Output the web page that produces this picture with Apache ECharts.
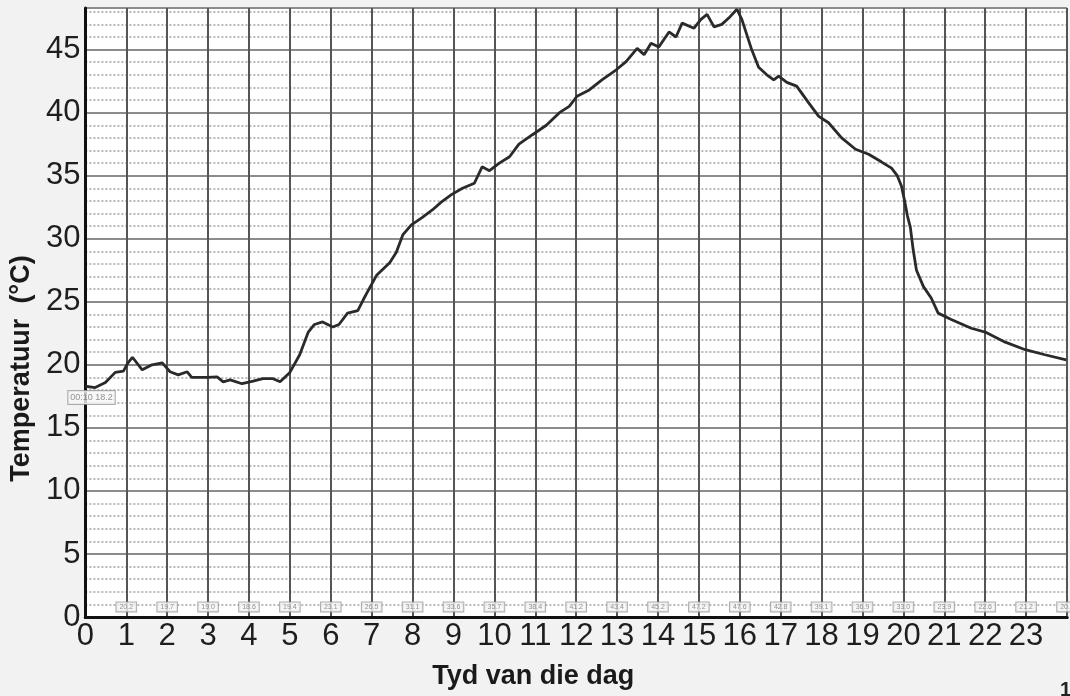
<!DOCTYPE html>
<html>
<head>
<meta charset="utf-8">
<style>
  html, body { margin: 0; padding: 0; background: #f2f2f2; }
  #chart { width: 1070px; height: 696px; }
</style>
<script src="https://cdn.jsdelivr.net/npm/echarts@6/dist/echarts.min.js"></script>
</head>
<body>
<div id="chart"></div>
<script>
// temperature trace (hour of day, degC)
const hours = [0, 0.24, 0.49, 0.73, 0.93, 1.05, 1.15, 1.39, 1.63, 1.88, 2.07, 2.27, 2.49, 2.6, 2.98,
  3.22, 3.37, 3.54, 3.83, 4.1, 4.34, 4.59, 4.76, 5, 5.24, 5.45, 5.6, 5.8, 6.05, 6.2, 6.41, 6.66, 6.8,
  6.95, 7.12, 7.44, 7.6, 7.76, 7.97, 8.24, 8.49, 8.7, 8.95, 9.22, 9.51, 9.7, 9.88, 10.12, 10.37, 10.6,
  10.93, 11.27, 11.59, 11.83, 12.02, 12.32, 12.63, 12.98, 13.22, 13.49, 13.66, 13.83, 14.02, 14.27,
  14.44, 14.59, 14.88, 15.05, 15.2, 15.37, 15.56, 15.73, 15.93, 16.05, 16.29, 16.46, 16.66, 16.83,
  16.95, 17.15, 17.39, 17.68, 17.93, 18.17, 18.49, 18.83, 19.15, 19.46, 19.71, 19.85, 19.95, 20.03,
  20.1, 20.17, 20.24, 20.32, 20.49, 20.68, 20.85, 21.17, 21.66, 22, 22.49, 22.98, 23.46, 23.98];
const temps = [18.3, 18.2, 18.6, 19.4, 19.5, 20.2, 20.6, 19.6, 20, 20.15, 19.45, 19.2, 19.45, 19, 19,
  19.05, 18.65, 18.8, 18.5, 18.7, 18.9, 18.9, 18.65, 19.4, 20.8, 22.6, 23.2, 23.4, 23, 23.2, 24.1, 24.3, 25.2,
  26.1, 27.1, 28.1, 28.9, 30.3, 31.1, 31.7, 32.3, 32.9, 33.5, 34, 34.4, 35.7, 35.4, 36, 36.5, 37.5,
  38.25, 39, 40, 40.5, 41.3, 41.8, 42.6, 43.4, 44.05, 45.1, 44.6, 45.5, 45.2, 46.4,
  46, 47.1, 46.7, 47.4, 47.8, 46.8, 47, 47.5, 48.2, 47.4, 45, 43.6, 43, 42.6,
  42.9, 42.4, 42.1, 40.8, 39.7, 39.2, 38, 37.1, 36.7, 36.1, 35.6, 35, 34.2, 33,
  31.8, 30.9, 29.1, 27.5, 26.2, 25.3, 24.1, 23.6, 22.9, 22.6, 21.8, 21.2, 20.8, 20.4];

// little reading boxes printed on the base line at each hour
const readingHours = [1, 2, 3, 4, 5, 6, 7, 8, 9, 10, 11, 12, 13, 14, 15, 16, 17, 18, 19, 20, 21, 22, 23, 24];
const readingValues = [20.2, 19.7, 19.0, 18.6, 19.4, 23.1, 26.5, 31.1, 33.6, 35.7, 38.4, 41.2, 43.4, 45.2,
  47.2, 47.6, 42.8, 39.1, 36.9, 33.0, 23.9, 22.6, 21.2, 20.4];
const startStamp = '00:10 18.2';

const fontFam = '"Liberation Sans", Arial, sans-serif';

const chart = echarts.init(document.getElementById('chart'));

const option = {
  backgroundColor: '#f2f2f2',
  animation: false,
  grid: {
    left: 85, top: 8, right: 1, bottom: 79,
    show: true, backgroundColor: '#ffffff', borderWidth: 0
  },
  xAxis: [
    {
      type: 'value', min: 0, max: 24, interval: 1, z: 1,
      axisLine: { show: true, lineStyle: { color: '#111', width: 3 } },
      axisTick: { show: false },
      axisLabel: {
        fontSize: 31, color: '#1e1e1e', margin: 4, fontFamily: fontFam,
        formatter: (v) => (v === 24 ? '' : String(v))
      },
      splitLine: { show: true, lineStyle: { color: '#555', width: 2 } },
      name: 'Tyd van die dag',
      nameLocation: 'middle',
      nameGap: 46,
      nameTextStyle: {
        fontSize: 27, fontWeight: 'bold', color: '#1a1a1a', fontFamily: fontFam,
        padding: [0, 86, 0, 0]
      }
    },
    {
      // top border
      type: 'value', position: 'top', min: 0, max: 24,
      axisLine: { show: true, lineStyle: { color: '#111', width: 3 } },
      axisTick: { show: false }, axisLabel: { show: false }, splitLine: { show: false }
    }
  ],
  yAxis: [
    {
      type: 'value', min: 0, max: 48.3, interval: 5, z: 1,
      axisLine: { show: true, lineStyle: { color: '#111', width: 3 } },
      axisTick: { show: false },
      axisLabel: {
        fontSize: 31, color: '#1e1e1e', margin: 5, fontFamily: fontFam,
        formatter: (v) => (v % 5 === 0 ? String(v) : '')
      },
      splitLine: { show: true, lineStyle: { color: '#8c8c8c', width: 2 } },
      name: 'Temperatuur  (°C)',
      nameLocation: 'middle',
      nameGap: 48,
      nameTextStyle: {
        fontSize: 27, fontWeight: 'bold', color: '#1a1a1a', fontFamily: fontFam,
        padding: [0, 112, 0, 0]
      }
    },
    {
      // dotted 1-degree lines
      type: 'value', min: 0, max: 48.3, interval: 1, position: 'right', z: 0,
      axisLine: { show: false }, axisTick: { show: false }, axisLabel: { show: false },
      splitLine: { show: true, lineStyle: { color: '#a0a0a0', width: 1.5, type: [2, 2] } }
    }
  ],
  graphic: [
    { type: 'text', left: 1060, top: 680, style: { text: '1', fontSize: 20, fontWeight: 'bold', fill: '#222', fontFamily: fontFam } }
  ],
  series: [
    {
      name: 'Temperatuur',
      type: 'line',
      data: hours.map((h, i) => [h, temps[i]]),
      showSymbol: false,
      symbol: 'none',
      lineStyle: { color: '#2a2a2a', width: 2.8 },
      z: 3
    },
    {
      name: 'readings',
      type: 'scatter',
      symbolSize: 0,
      data: readingHours.map((h, i) => [h, 0.8, readingValues[i]]),
      label: {
        show: true, position: 'inside', fontSize: 7, color: '#777',
        backgroundColor: '#f6f6f6', borderColor: '#9a9a9a', borderWidth: 1, padding: [1, 3],
        formatter: (p) => p.value[2].toFixed(1)
      },
      z: 4
    },
    {
      name: 'start',
      type: 'scatter',
      symbolSize: 0,
      data: [[0.15, 17.4]],
      label: {
        show: true, position: 'inside', fontSize: 9, color: '#777',
        backgroundColor: '#f6f6f6', borderColor: '#9a9a9a', borderWidth: 1, padding: [2, 2],
        formatter: startStamp
      },
      z: 4
    }
  ]
};

chart.setOption(option);
</script>
</body>
</html>
